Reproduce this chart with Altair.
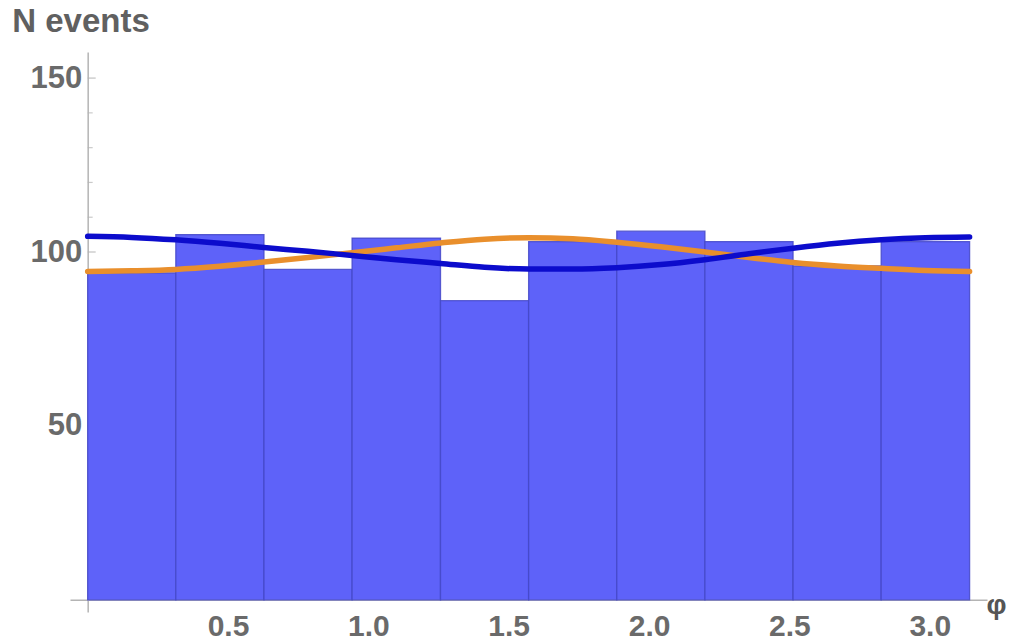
import altair as alt
import pandas as pd

# Histogram of the angle: bin edges and event counts
bin_lo = [0.0, 0.314, 0.628, 0.942, 1.257, 1.571, 1.885, 2.199, 2.513, 2.827]
bin_hi = [0.314, 0.628, 0.942, 1.257, 1.571, 1.885, 2.199, 2.513, 2.827, 3.142]
counts = [94, 105, 95, 104, 86, 103, 106, 103, 96, 103]

# Two expected-distribution curves sampled along the angle
phi = [0.0, 0.157, 0.314, 0.471, 0.628, 0.785, 0.942, 1.100, 1.257, 1.414, 1.571,
       1.728, 1.885, 2.042, 2.199, 2.356, 2.513, 2.670, 2.827, 2.985, 3.142]
curve_blue = [104.5, 104.2, 103.5, 102.5, 101.3, 100.2, 99.0, 97.8, 96.7, 95.6, 95.1,
              95.1, 95.5, 96.4, 97.8, 99.5, 101.1, 102.5, 103.5, 104.1, 104.3]
curve_orange = [94.4, 94.6, 95.0, 95.9, 97.1, 98.4, 99.8, 101.2, 102.6, 103.7, 104.1,
                103.8, 102.8, 101.5, 100.0, 98.4, 97.0, 96.0, 95.3, 94.7, 94.4]

# Axis tick values
x_tick_values = [0.5, 1.0, 1.5, 2.0, 2.5, 3.0]
y_tick_values = [50, 100, 150]
y_minor_values = [10, 20, 30, 40, 60, 70, 80, 90, 110, 120, 130, 140]

hist = pd.DataFrame({"lo": bin_lo, "hi": bin_hi, "n": counts})
blue_df = pd.DataFrame({"phi": phi, "n": curve_blue})
orange_df = pd.DataFrame({"phi": phi, "n": curve_orange})
major_df = pd.DataFrame({"x": [0.0] * len(y_tick_values), "y": y_tick_values})
minor_df = pd.DataFrame({"x": [0.0] * len(y_minor_values), "y": y_minor_values})

W, H = 917, 560
x_dom = [-0.063, 3.204]
y_dom = [-3.5, 157.5]
x_scale = alt.Scale(domain=x_dom, nice=False, zero=False)
y_scale = alt.Scale(domain=y_dom, nice=False, zero=False)

# place the axes through the origin
y_axis_shift = -W * (0 - x_dom[0]) / (x_dom[1] - x_dom[0])
x_axis_shift = -H * (0 - y_dom[0]) / (y_dom[1] - y_dom[0])

label_color = "#6a6a6a"
axis_color = "#b4b4b4"

x_axis = alt.Axis(
    values=x_tick_values, format=".1f", ticks=False, grid=False,
    domainColor=axis_color, domainWidth=1.5, offset=x_axis_shift,
    labelFont="Liberation Sans", labelFontSize=30, labelFontWeight="bold",
    labelColor=label_color, labelPadding=12, labelFlush=False,
    title="φ", titleFont="Liberation Sans", titleFontSize=28, titleFontWeight="bold",
    titleColor="#555555", titleAlign="left", titleBaseline="middle",
    titleAnchor="start", titleX=916, titleY=6, titleAngle=0,
)
y_axis = alt.Axis(
    values=y_tick_values, ticks=False, grid=False,
    domainColor=axis_color, domainWidth=1.5, offset=y_axis_shift,
    labelFont="Liberation Sans", labelFontSize=31, labelFontWeight="bold",
    labelColor=label_color, labelPadding=6,
    title="N events", titleFont="Liberation Sans", titleFontSize=33,
    titleFontWeight="bold", titleColor="#606060", titleAngle=0,
    titleAlign="left", titleBaseline="top", titleX=-76, titleY=-47,
)

minor_ticks = alt.Chart(minor_df).mark_tick(
    orient="horizontal", size=5, thickness=1.2, color=axis_color, xOffset=2.5
).encode(
    x=alt.X("x:Q", scale=x_scale, axis=x_axis),
    y=alt.Y("y:Q", scale=y_scale, axis=y_axis),
)
major_ticks = alt.Chart(major_df).mark_tick(
    orient="horizontal", size=8, thickness=1.4, color=axis_color, xOffset=4
).encode(x=alt.X("x:Q", scale=x_scale), y=alt.Y("y:Q", scale=y_scale))

bars = alt.Chart(hist).mark_rect(
    fill="#5e62f9", stroke="#4448c8", strokeWidth=1.3, strokeOpacity=0.85
).encode(
    x=alt.X("lo:Q", scale=x_scale),
    x2="hi:Q",
    y=alt.Y("n:Q", scale=y_scale),
    y2=alt.datum(0),
)

orange_line = alt.Chart(orange_df).mark_line(
    color="#e98f2c", strokeWidth=5.5, interpolate="monotone", strokeCap="round"
).encode(x=alt.X("phi:Q", scale=x_scale), y=alt.Y("n:Q", scale=y_scale))

blue_line = alt.Chart(blue_df).mark_line(
    color="#0c0ccc", strokeWidth=5.5, interpolate="monotone", strokeCap="round"
).encode(x=alt.X("phi:Q", scale=x_scale), y=alt.Y("n:Q", scale=y_scale))

chart = alt.layer(minor_ticks, major_ticks, bars, orange_line, blue_line).properties(
    width=W, height=H,
    autosize=alt.AutoSizeParams(type="none"),
    padding={"left": 70, "top": 52, "right": 25, "bottom": 32},
    background="white",
).configure_view(stroke=None)

chart.save("out.html", embed_options={"renderer": "svg", "actions": False})
